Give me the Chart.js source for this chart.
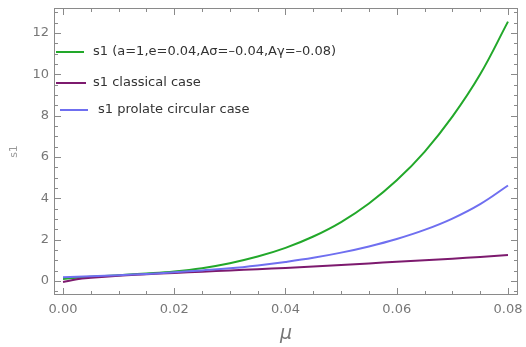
<!DOCTYPE html>
<html>
<head>
<meta charset="utf-8">
<script src="https://cdn.jsdelivr.net/npm/chart.js@4/dist/chart.umd.min.js"></script>
<style>
  body { margin: 0; background: #fff; }
  #wrap { width: 526px; height: 347px; }
</style>
</head>
<body>
<div id="wrap"><canvas id="chart" width="526" height="347"></canvas></div>
<script>
// mu values (x axis)
let mu = [0, 0.0025, 0.005, 0.01, 0.015, 0.02, 0.025, 0.03, 0.035, 0.04, 0.045, 0.05, 0.055, 0.06, 0.065, 0.07, 0.075, 0.08];

// s1 values
let s1_general = [0.1, 0.15, 0.2, 0.28, 0.36, 0.46, 0.62, 0.86, 1.18, 1.6, 2.15, 2.85, 3.75, 4.87, 6.25, 7.95, 10.0, 12.55];
let s1_classical = [-0.05, 0.08, 0.15, 0.25, 0.32, 0.39, 0.45, 0.51, 0.57, 0.63, 0.7, 0.77, 0.85, 0.93, 1.0, 1.08, 1.16, 1.25];
let s1_prolate = [0.18, 0.2, 0.23, 0.28, 0.34, 0.42, 0.51, 0.61, 0.75, 0.92, 1.12, 1.37, 1.67, 2.03, 2.47, 3.02, 3.72, 4.62];

let series_labels = [
    's1 (a=1,e=0.04,A\u03c3=\u20130.04,A\u03b3=\u20130.08)',
    's1 classical case',
    's1 prolate circular case'
];
let series_colors = ['#22a82a', '#7d1a6e', '#6f6ff0'];

let x_ticks = [0, 0.02, 0.04, 0.06, 0.08];
let y_ticks = [0, 2, 4, 6, 8, 10, 12];

const toPoints = (ys) => mu.map((m, i) => ({ x: m, y: ys[i] }));

// Mathematica style frame with inward ticks on all four sides
const frameTicks = {
    id: 'frameTicks',
    afterDraw(chart) {
        const ctx = chart.ctx;
        const a = chart.chartArea;
        const xs = chart.scales.x;
        const ys = chart.scales.y;
        ctx.save();
        ctx.strokeStyle = '#8a8a8a';
        ctx.lineWidth = 1;
        ctx.strokeRect(a.left + 0.5, a.top + 0.5, a.right - a.left - 1, a.bottom - a.top - 1);
        ctx.beginPath();
        for (let v = 0; v <= 0.0801; v += 0.005) {
            let major = Math.abs(v / 0.02 - Math.round(v / 0.02)) < 1e-6;
            let len = major ? 7 : 4;
            let px = Math.round(xs.getPixelForValue(v)) + 0.5;
            ctx.moveTo(px, a.bottom);
            ctx.lineTo(px, a.bottom - len);
            ctx.moveTo(px, a.top);
            ctx.lineTo(px, a.top + len);
        }
        for (let v = -0.5; v <= 13; v += 0.5) {
            let major = Math.abs(v / 2 - Math.round(v / 2)) < 1e-6;
            let len = major ? 7 : 4;
            let py = Math.round(ys.getPixelForValue(v)) + 0.5;
            ctx.moveTo(a.left, py);
            ctx.lineTo(a.left + len, py);
            ctx.moveTo(a.right, py);
            ctx.lineTo(a.right - len, py);
        }
        ctx.stroke();
        ctx.restore();
    }
};

// legend drawn inside the plot, top-left
const innerLegend = {
    id: 'innerLegend',
    afterDraw(chart) {
        const ctx = chart.ctx;
        let rows = [
            { y: 52, x0: 56, x1: 84, tx: 93 },
            { y: 83, x0: 56, x1: 86, tx: 93 },
            { y: 110, x0: 60, x1: 88, tx: 98 }
        ];
        ctx.save();
        ctx.font = '13px "DejaVu Sans"';
        ctx.textBaseline = 'middle';
        chart.data.datasets.forEach((ds, i) => {
            let r = rows[i];
            ctx.strokeStyle = ds.borderColor;
            ctx.lineWidth = 2;
            ctx.beginPath();
            ctx.moveTo(r.x0, r.y);
            ctx.lineTo(r.x1, r.y);
            ctx.stroke();
            ctx.fillStyle = '#333';
            ctx.fillText(ds.label, r.tx, r.y);
        });
        ctx.restore();
    }
};

let chart = new Chart(document.getElementById('chart'), {
    type: 'line',
    data: {
        datasets: [
            { label: series_labels[0], data: toPoints(s1_general), borderColor: series_colors[0], order: 2 },
            { label: series_labels[1], data: toPoints(s1_classical), borderColor: series_colors[1], order: 1 },
            { label: series_labels[2], data: toPoints(s1_prolate), borderColor: series_colors[2], order: 0 }
        ]
    },
    options: {
        responsive: false,
        animation: false,
        layout: { padding: { top: 8, right: 8, left: 0, bottom: 0 } },
        elements: {
            point: { radius: 0 },
            line: { borderWidth: 2, tension: 0.4, fill: false }
        },
        plugins: {
            legend: { display: false },
            tooltip: { enabled: false }
        },
        scales: {
            x: {
                type: 'linear',
                min: -0.00162,
                max: 0.0818,
                grid: { display: false, drawTicks: false },
                border: { display: false },
                afterBuildTicks: (s) => { s.ticks = x_ticks.map(v => ({ value: v })); },
                afterFit: (s) => { s.height = 52; s.paddingLeft = 0; s.paddingRight = 0; },
                ticks: {
                    padding: 7,
                    maxRotation: 0,
                    color: '#777',
                    font: { family: 'DejaVu Sans', size: 13 },
                    callback: (v) => Number(v).toFixed(2)
                },
                title: {
                    display: true,
                    text: '\u03bc',
                    color: '#777',
                    font: { family: 'DejaVu Sans', size: 19, style: 'italic' },
                    padding: { top: 0, bottom: 2 }
                }
            },
            y: {
                min: -0.68,
                max: 13.21,
                grid: { display: false, drawTicks: false },
                border: { display: false },
                afterBuildTicks: (s) => { s.ticks = y_ticks.map(v => ({ value: v })); },
                afterFit: (s) => { s.width = 54; s.paddingTop = 0; s.paddingBottom = 0; },
                ticks: {
                    padding: 5,
                    color: '#777',
                    font: { family: 'DejaVu Sans', size: 13 }
                },
                title: {
                    display: true,
                    text: 's1',
                    color: '#999',
                    font: { family: 'DejaVu Sans', size: 11 },
                    padding: { top: 8, bottom: 0 }
                }
            }
        }
    },
    plugins: [frameTicks, innerLegend]
});
</script>
</body>
</html>
